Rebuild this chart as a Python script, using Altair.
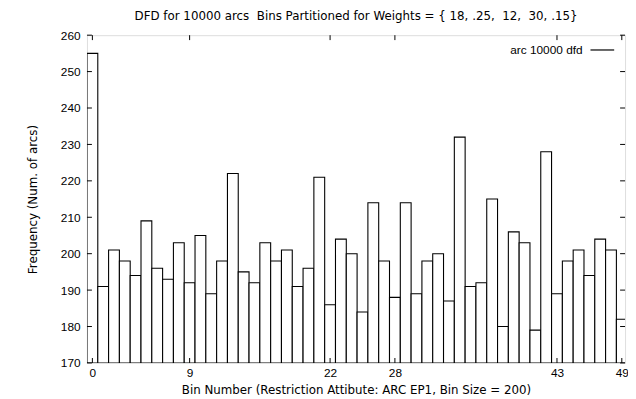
import altair as alt
import pandas as pd

bins = list(range(50))
freq = [255, 191, 201, 198, 194, 209, 196, 193, 203, 192,
        205, 189, 198, 222, 195, 192, 203, 198, 201, 191,
        196, 221, 186, 204, 200, 184, 214, 198, 188, 214,
        189, 198, 200, 187, 232, 191, 192, 215, 180, 206,
        203, 179, 228, 189, 198, 201, 194, 204, 201, 182]
x_tick_values = [0, 9, 22, 28, 43, 49]
y_tick_values = [170, 180, 190, 200, 210, 220, 230, 240, 250, 260]
legend_label = ["arc 10000 dfd"]
title_text = "DFD for 10000 arcs\u00a0\u00a0Bins Partitioned for Weights = { 18, .25,\u00a0\u00a012,\u00a0\u00a030, .15}"
x_title = "Bin Number (Restriction Attibute: ARC EP1, Bin Size = 200)"
y_title = "Frequency (Num. of arcs)"

FONT = "Liberation Sans"
TFONT = "DejaVu Sans"
W, H = 545, 332

df = pd.DataFrame({
    "bin": bins,
    "freq": freq,
    "x0": [b - 0.5 for b in bins],
    "x1": [b + 0.5 for b in bins],
    "base": [170] * len(bins),
})
xt = pd.DataFrame({"t": x_tick_values})
yt = pd.DataFrame({"t": y_tick_values})
lg = pd.DataFrame({"label": legend_label})

xscale = alt.Scale(domain=[-0.5, 49.3], nice=False, zero=False)
yscale = alt.Scale(domain=[170, 260], nice=False, zero=False)

xaxis = alt.Axis(values=x_tick_values, title=x_title, ticks=False,
                 domain=False, grid=False, labelPadding=5,
                 titlePadding=6, labelFlush=False, labelOverlap=False,
                 format="d", titleFontWeight="normal", titleFont=TFONT,
                 titleFontSize=12, labelFont=FONT, labelFontSize=12,
                 labelColor="black", titleColor="black")
yaxis = alt.Axis(values=y_tick_values, title=y_title, ticks=False,
                 domain=False, grid=False, labelPadding=7,
                 titlePadding=21, labelFlush=False, labelOverlap=False,
                 format="d", titleFontWeight="normal", titleFont=TFONT,
                 titleFontSize=12, labelFont=FONT, labelFontSize=12,
                 labelColor="black", titleColor="black")

bars = alt.Chart(df).mark_rect(
    fill="white", stroke="black", strokeWidth=1.1, clip=True
).encode(
    x=alt.X("x0:Q", scale=xscale, axis=xaxis, title=x_title),
    x2="x1:Q",
    y=alt.Y("freq:Q", scale=yscale, axis=yaxis, title=y_title),
    y2="base:Q",
)

ytick_l = alt.Chart(yt).mark_rule(color="black", strokeWidth=1).encode(
    y=alt.Y("t:Q", scale=yscale, axis=yaxis, title=y_title), x=alt.value(0), x2=alt.value(5))
ytick_r = alt.Chart(yt).mark_rule(color="black", strokeWidth=1).encode(
    y=alt.Y("t:Q", scale=yscale, axis=yaxis, title=y_title), x=alt.value(W - 5), x2=alt.value(W))
xtick_b = alt.Chart(xt).mark_rule(color="black", strokeWidth=1).encode(
    x=alt.X("t:Q", scale=xscale, axis=xaxis, title=x_title), y=alt.value(H - 5), y2=alt.value(H))
xtick_t = alt.Chart(xt).mark_rule(color="black", strokeWidth=1).encode(
    x=alt.X("t:Q", scale=xscale, axis=xaxis, title=x_title), y=alt.value(0), y2=alt.value(5))

leg_text = alt.Chart(lg).mark_text(
    align="right", baseline="middle", font=FONT, fontSize=12, color="black"
).encode(text="label:N", x=alt.value(502), y=alt.value(15))
leg_line = alt.Chart(lg).mark_rule(color="black", strokeWidth=1.2).encode(
    x=alt.value(510), x2=alt.value(534), y=alt.value(15))

chart = alt.layer(bars, ytick_l, ytick_r, xtick_b, xtick_t, leg_text, leg_line).properties(
    width=W, height=H,
    title=alt.TitleParams(title_text, font=TFONT, fontSize=12, fontWeight="normal",
                          color="black", anchor="middle", offset=6),
    autosize=alt.AutoSizeParams(type="none"),
    padding={"left": 80, "top": 25, "right": 3, "bottom": 34},
).configure_view(
    stroke="black", strokeWidth=1.3
).configure(background="white")

chart.save("out.html", embed_options={"renderer": "svg", "actions": False})
